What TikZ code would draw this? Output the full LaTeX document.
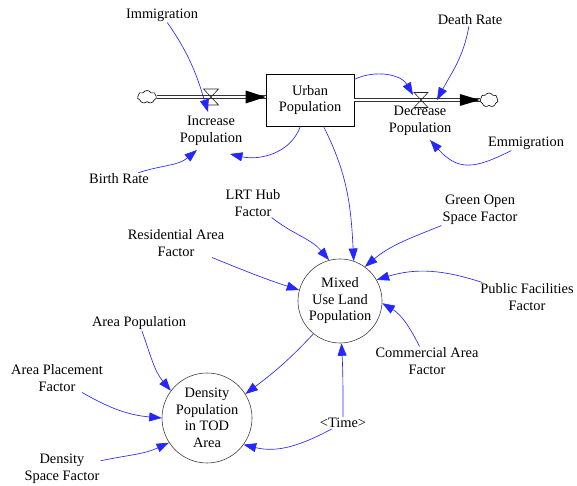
\documentclass[tikz,border=0pt]{standalone}
\usepackage{fontspec}
\setmainfont{Liberation Serif}
\usetikzlibrary{arrows.meta,shapes.symbols}

\tikzset{
  lbl/.style={align=center, inner sep=1pt, font=\fontsize{14.4}{16.5}\selectfont},
  aux/.style={lbl, draw=black!75, line width=0.6pt, circle},
  stockbox/.style={lbl, draw=black, line width=0.7pt, minimum width=88pt, minimum height=52pt, inner sep=0pt},
  cloudnode/.style={cloud, cloud puffs=7, cloud puff arc=120, aspect=1.5, draw=black, line width=0.6pt,
    inner sep=0pt, minimum width=19pt, minimum height=13pt},
  pipe/.style={draw=black!80, line width=0.8pt, double=white, double distance=2pt},
  valveline/.style={draw=black!85, line width=0.6pt},
  link/.style={draw=blue!85!white, line width=0.65pt, -{Triangle[length=12.5pt,width=9pt]}},
}

\begin{document}
\begin{tikzpicture}[x=1pt, y=1pt]
\useasboundingbox (0,0) rectangle (577,486);

% stock and its flows
\node[stockbox] (stock) at (310,386) {Urban\\Population};
\node[cloudnode] (cloudL) at (147,389) {};
\node[cloudnode, minimum width=18pt, minimum height=14pt] (cloudR) at (489,386) {};
\coordinate (vin) at (211,389);
\coordinate (vout) at (421,386);
\coordinate (pinL) at (cloudL.east -| stock.west);
\coordinate (pinR) at (cloudR.west);

\draw[pipe] (cloudL.east) -- (pinL);
\draw[pipe] (stock.east |- cloudR.west) -- (pinR);
\fill[black] (pinL) -- ++(-20,6.5) -- ++(0,-13) -- cycle;
\fill[black] (pinR) -- ++(-20,6) -- ++(0,-12) -- cycle;

% valves
\draw[valveline] (vin) ++(-7.5,8) -- ++(15,0) -- ++(-15,-16) -- ++(15,0) -- cycle;
\draw[valveline] (vout) ++(-7,7.5) -- ++(14,0) -- ++(-14,-15) -- ++(14,0) -- cycle;

% flow labels
\node[lbl] (incr) at (211,355) {Increase\\Population};
\node[lbl] (decr) at (420,365) {Decrease\\Population};

% auxiliaries
\node[aux, minimum size=84pt] (mixed) at (340,185) {Mixed\\Use Land\\Population};
\node[aux, minimum size=90pt] (dens) at (207,68) {Density\\Population\\in TOD\\Area};

% constants
\node[lbl] (imm) at (162,471) {Immigration};
\node[lbl] (death) at (470,466) {Death Rate};
\node[lbl] (emm) at (526,343) {Emmigration};
\node[lbl] (birth) at (119,307) {Birth Rate};
\node[lbl] (lrt) at (253,283) {LRT Hub\\Factor};
\node[lbl] (res) at (176,243) {Residential Area\\Factor};
\node[lbl] (green) at (480,276) {Green Open\\Space Factor};
\node[lbl] (pub) at (527,189) {Public Facilities\\Factor};
\node[lbl] (com) at (427,125) {Commercial Area\\Factor};
\node[lbl] (time) at (343,63) {<Time>};
\node[lbl] (areapop) at (139,163) {Area Population};
\node[lbl] (ap) at (57,108) {Area Placement\\Factor};
\node[lbl] (ds) at (62,17) {Density\\Space Factor};

% information links
\draw[link] ([shift={(10,-13)}]imm) to[out=-55, in=107] ([shift={(-3,19)}]incr);
\draw[link] ([shift={(-2,-10)}]death) to[out=-100, in=62] ([shift={(16,0)}]vout);
\draw[link] ([shift={(23,26)}]stock) to[out=25, in=120] ([shift={(-8,5)}]vout);
\draw[link] ([shift={(-9,-10)}]emm) to[out=207, in=-48, looseness=1.3] ([shift={(10,-19)}]decr);
\draw[link] ([shift={(33,0)}]birth) to[out=18, in=220] ([shift={(-14,-19)}]incr);
\draw[link] ([shift={(-5,-27)}]stock) to[out=-110, in=-13] ([shift={(19,-23)}]incr);
\draw[link] ([shift={(17,-27)}]stock) to[out=-63, in=93] (mixed.71);
\draw[link] ([shift={(35,-15)}]lrt) to[out=-38, in=130] (mixed.105);
\draw[link] ([shift={(38,-17)}]res) to[out=-22, in=162] (mixed.165);
\draw[link] ([shift={(-43,-8)}]green) to[out=202, in=40] (mixed.54);
\draw[link] ([shift={(-30,19)}]pub) to[out=162, in=17] (mixed.30);
\draw[link] ([shift={(-4,18)}]com) to[out=117, in=-31] (mixed.-3);
\draw[link] ([shift={(1,11)}]time) to[out=90, in=-87] (mixed.-88);
\draw[link] ([shift={(-11,-12)}]time) to[out=208, in=-14] (dens.-36);
\draw[link] (mixed.-129) to[out=-133, in=37] (dens.32);
\draw[link] ([shift={(6,-27)}]areapop) to[out=-70, in=130] (dens.143);
\draw[link] ([shift={(26,-17)}]ap) to[out=-30, in=175] (dens.180);
\draw[link] ([shift={(42,5)}]ds) to[out=12, in=205] (dens.213);
\end{tikzpicture}
\end{document}
